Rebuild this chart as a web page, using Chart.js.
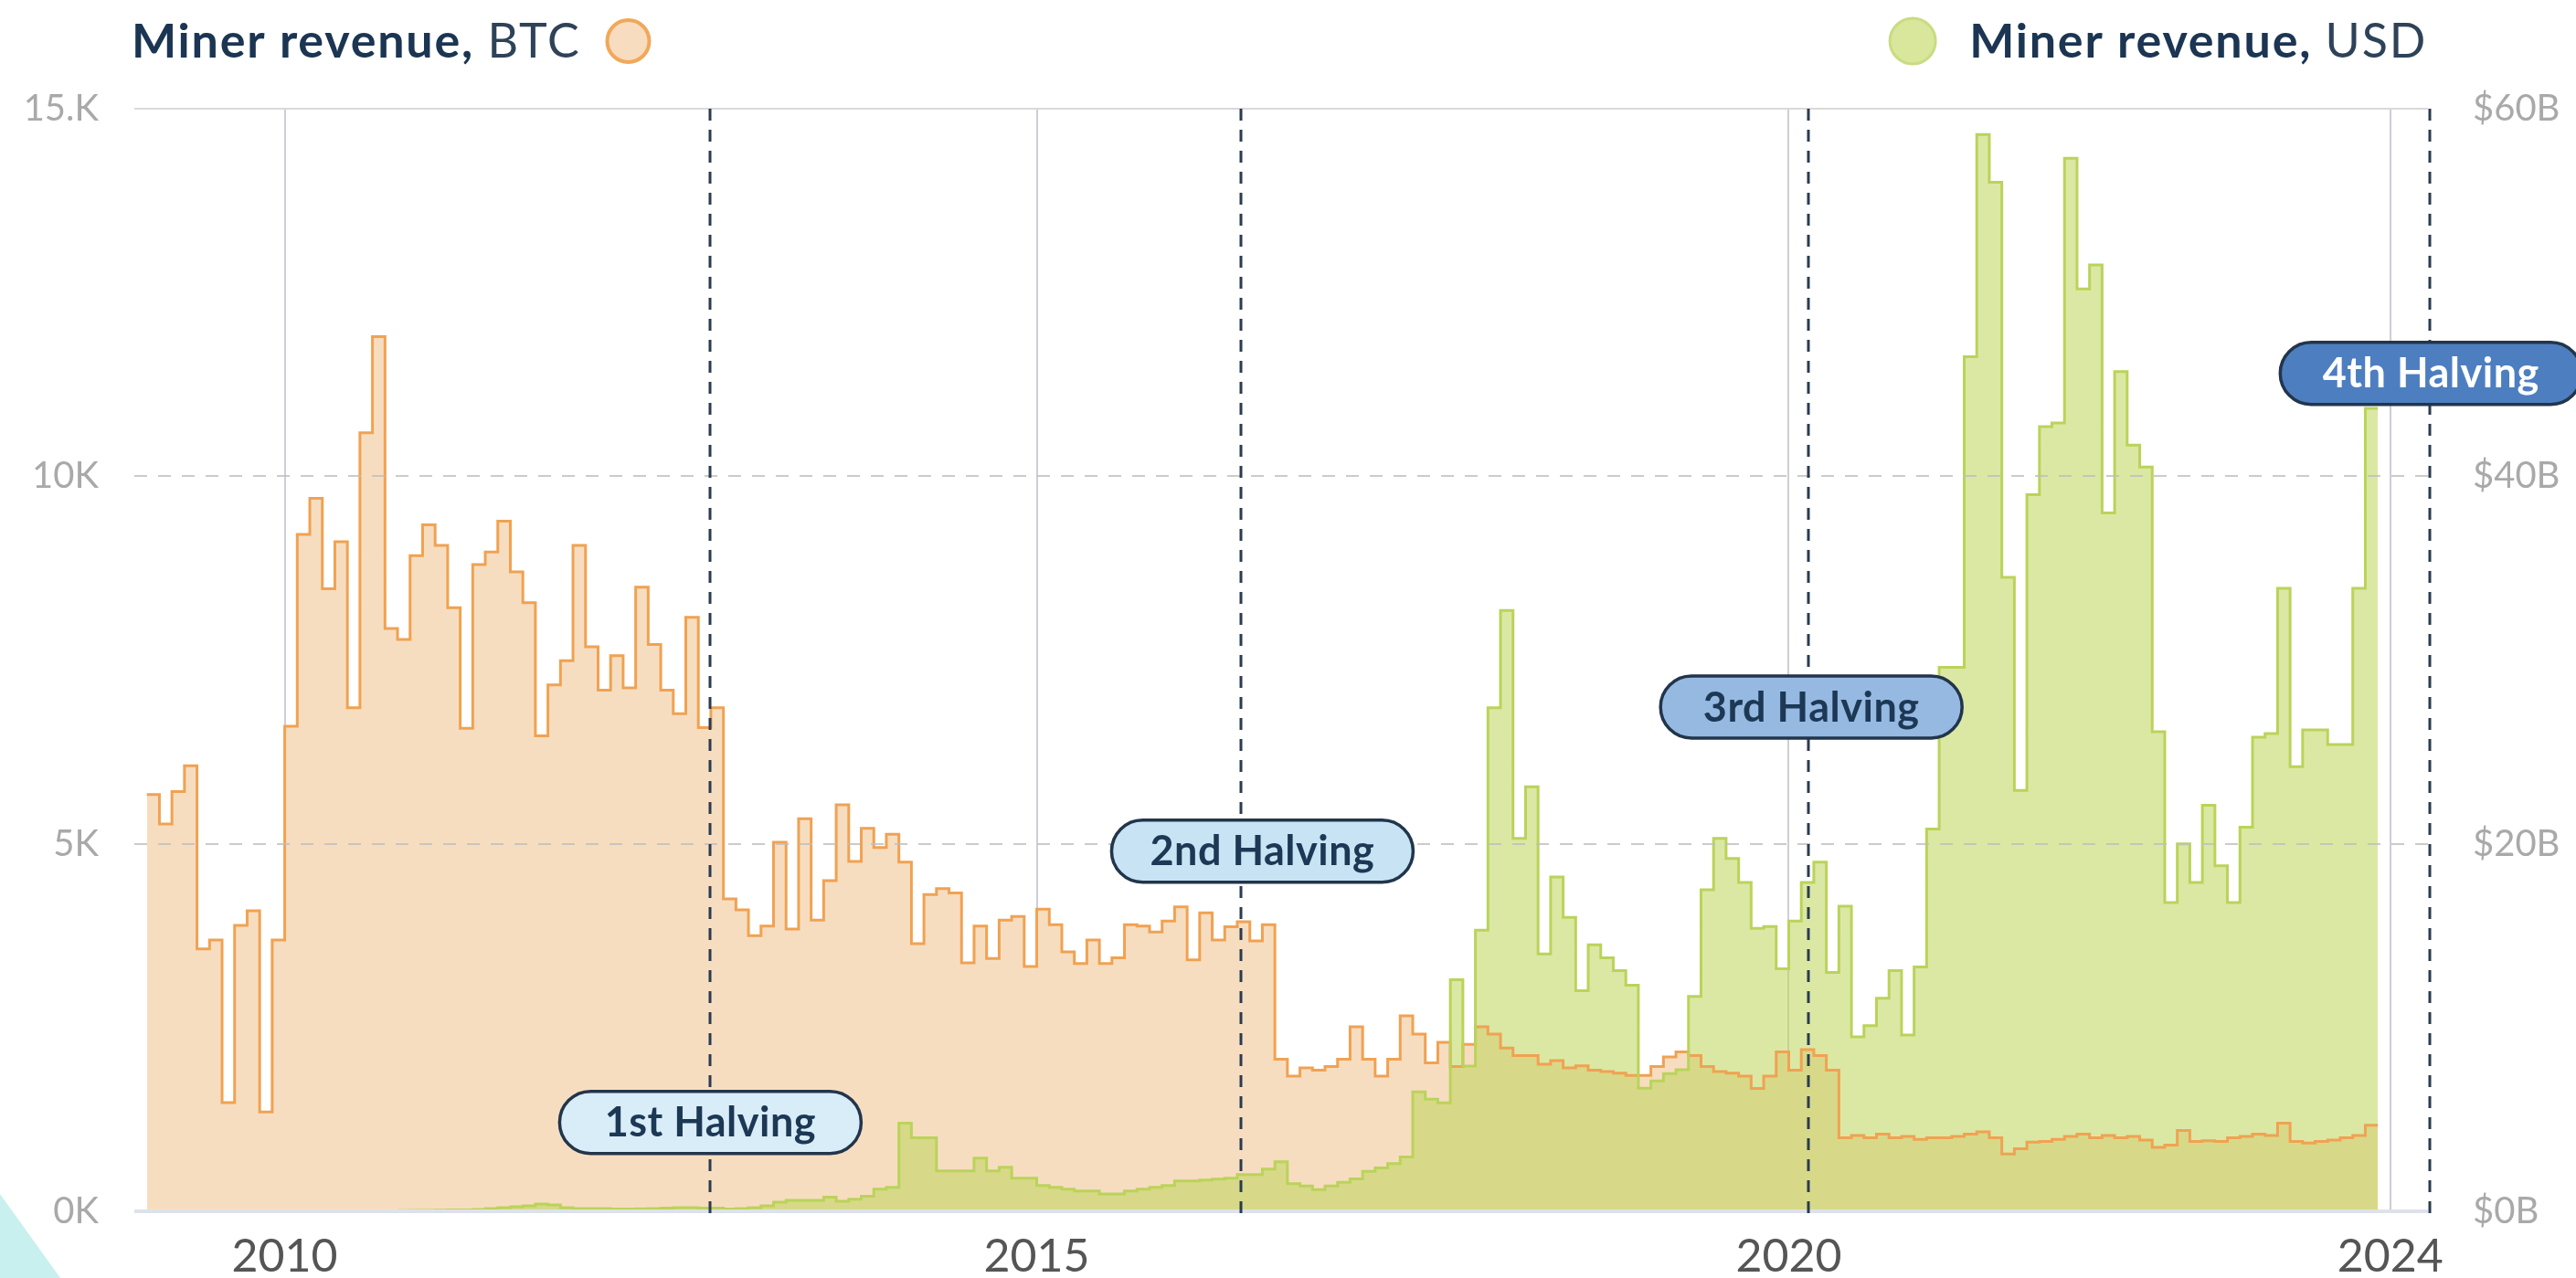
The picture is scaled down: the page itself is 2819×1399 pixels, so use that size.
<!DOCTYPE html>
<html>
<head>
<meta charset="utf-8">
<script src="https://cdn.jsdelivr.net/npm/chart.js@4.4.1/dist/chart.umd.min.js"></script>
<style>
  html, body { margin: 0; padding: 0; background: #fff; }
  #wrap { position: relative; width: 2819px; height: 1399px; overflow: hidden; }
  #corner { position: absolute; left: 0; bottom: 0; width: 66px; height: 92px; background: #c8f0ee;
            clip-path: polygon(0 0, 100% 100%, 0 100%); }
</style>
</head>
<body>
<div id="wrap">
  <canvas id="myChart" width="2819" height="1399"></canvas>
  <div id="corner"></div>
</div>
<script>
// monthly miner revenue, first month = Feb 2009, last = Nov 2023
const firstYear = 2009;
const firstMonth = 1; // 0 = Jan

// BTC (thousands)
const btc2009 = [5.67, 5.27, 5.71, 6.06, 3.57, 3.69, 1.48, 3.89, 4.09, 1.35, 3.69];
const btc2010 = [6.6, 9.21, 9.7, 8.47, 9.11, 6.85, 10.59, 11.9, 7.93, 7.78, 8.92, 9.34];
const btc2011 = [9.06, 8.21, 6.57, 8.8, 8.97, 9.39, 8.7, 8.28, 6.47, 7.16, 7.49, 9.06];
const btc2012 = [7.68, 7.09, 7.56, 7.12, 8.49, 7.71, 7.09, 6.77, 8.08, 6.58, 6.85, 4.25];
const btc2013 = [4.1, 3.75, 3.88, 5.02, 3.84, 5.34, 3.96, 4.5, 5.53, 4.76, 5.21, 4.95];
const btc2014 = [5.13, 4.75, 3.64, 4.31, 4.39, 4.33, 3.38, 3.88, 3.44, 3.96, 4.01, 3.33];
const btc2015 = [4.11, 3.9, 3.53, 3.37, 3.69, 3.37, 3.45, 3.9, 3.88, 3.8, 3.95, 4.14];
const btc2016 = [3.42, 4.06, 3.69, 3.87, 3.94, 3.68, 3.9, 2.07, 1.84, 1.95, 1.92, 1.97];
const btc2017 = [2.07, 2.51, 2.07, 1.84, 2.07, 2.66, 2.41, 2.02, 2.3, 1.97, 2.27, 2.51];
const btc2018 = [2.41, 2.22, 2.12, 2.12, 2.0, 2.05, 1.95, 1.98, 1.92, 1.9, 1.88, 1.85];
const btc2019 = [1.85, 1.97, 2.1, 2.17, 2.12, 1.97, 1.9, 1.88, 1.84, 1.67, 1.84, 2.17];
const btc2020 = [1.92, 2.2, 2.12, 1.92, 1.0, 1.03, 1.0, 1.05, 1.0, 1.02, 0.98, 1.0];
const btc2021 = [1.0, 1.02, 1.05, 1.08, 1.0, 0.78, 0.85, 0.94, 0.95, 0.98, 1.02, 1.05];
const btc2022 = [1.0, 1.03, 1.0, 1.02, 0.97, 0.87, 0.9, 1.1, 0.95, 0.96, 0.95, 1.0];
const btc2023 = [1.02, 1.05, 1.03, 1.2, 0.95, 0.93, 0.95, 0.97, 1.0, 1.03, 1.17];

// USD (billions), null = no price data yet
const usd2009 = [null, null, null, null, null, null, null, null, null, null, null];
const usd2010 = [null, null, null, null, null, null, null, null, null, 0.04, 0.05, 0.05];
const usd2011 = [0.06, 0.08, 0.08, 0.1, 0.15, 0.2, 0.25, 0.3, 0.4, 0.35, 0.2, 0.15];
const usd2012 = [0.15, 0.15, 0.12, 0.12, 0.14, 0.15, 0.18, 0.2, 0.2, 0.18, 0.18, 0.12];
const usd2013 = [0.15, 0.2, 0.3, 0.5, 0.6, 0.6, 0.6, 0.77, 0.55, 0.66, 0.82, 1.2];
const usd2014 = [1.3, 4.8, 4.0, 4.0, 2.2, 2.2, 2.2, 2.9, 2.2, 2.4, 1.8, 1.8];
const usd2015 = [1.4, 1.3, 1.2, 1.1, 1.1, 0.95, 0.95, 1.1, 1.2, 1.3, 1.4, 1.65];
const usd2016 = [1.65, 1.7, 1.75, 1.8, 2.0, 2.0, 2.3, 2.7, 1.5, 1.38, 1.18, 1.38];
const usd2017 = [1.58, 1.77, 2.17, 2.36, 2.6, 2.96, 6.5, 6.1, 5.9, 12.6, 7.9, 15.3];
const usd2018 = [27.4, 32.7, 20.3, 23.1, 14.0, 18.2, 16.0, 12.0, 14.5, 13.8, 13.1, 12.3];
const usd2019 = [6.7, 7.1, 7.5, 7.7, 11.7, 17.5, 20.3, 19.2, 17.9, 15.4, 15.5, 13.2];
const usd2020 = [15.8, 17.9, 19.0, 13.0, 16.6, 9.5, 10.1, 11.6, 13.1, 9.6, 13.3, 20.8];
const usd2021 = [29.6, 29.6, 46.5, 58.6, 56.0, 34.5, 22.9, 39.0, 42.7, 42.9, 57.3, 50.2];
const usd2022 = [51.5, 38.0, 45.7, 41.7, 40.5, 26.1, 16.8, 20.0, 17.9, 22.1, 18.8, 16.8];
const usd2023 = [20.9, 25.8, 26.0, 33.9, 24.2, 26.2, 26.2, 25.4, 25.4, 33.9, 43.7];

const xTicks = [2010, 2015, 2020, 2024];
const btcTicks = [0, 5, 10, 15];
const btcTickLabels = ['0K', '5K', '10K', '15.K'];
const usdTicks = [0, 20, 40, 60];
const usdTickLabels = ['$0B', '$20B', '$40B', '$60B'];

const halvingNames = ['1st Halving', '2nd Halving', '3rd Halving', '4th Halving'];
const halvingLineAt = [2012.83, 2016.36, 2020.13, 2024.26];
const halvingLabelX = [2012.83, 2016.5, 2020.15, 2024.27];
const halvingLabelY = [1.21, 4.9, 6.86, 11.4]; // in BTC-axis units
const halvingFill = ['#d8edf8', '#c8e4f4', '#96b9e2', '#4d7ec0'];
const halvingText = ['#1c3855', '#1c3855', '#1c3855', '#ffffff'];

const btcValues = [].concat(btc2009, btc2010, btc2011, btc2012, btc2013, btc2014, btc2015,
  btc2016, btc2017, btc2018, btc2019, btc2020, btc2021, btc2022, btc2023);
const usdValues = [].concat(usd2009, usd2010, usd2011, usd2012, usd2013, usd2014, usd2015,
  usd2016, usd2017, usd2018, usd2019, usd2020, usd2021, usd2022, usd2023);

function monthX(k) {
  return firstYear + (firstMonth + k) / 12;
}

// one point per month start, plus a closing point so the last month gets its width
function toPoints(values) {
  const pts = values.map((v, k) => ({ x: monthX(k), y: v }));
  pts.push({ x: monthX(values.length), y: values[values.length - 1] });
  return pts.filter(p => p.y !== null);
}

const FONT = 'Lato, "Open Sans", sans-serif';

function pill(ctx, cx, cy, w, h, fill, text, color) {
  const r = h / 2;
  ctx.beginPath();
  ctx.moveTo(cx - w / 2 + r, cy - r);
  ctx.lineTo(cx + w / 2 - r, cy - r);
  ctx.arc(cx + w / 2 - r, cy, r, -Math.PI / 2, Math.PI / 2);
  ctx.lineTo(cx - w / 2 + r, cy + r);
  ctx.arc(cx - w / 2 + r, cy, r, Math.PI / 2, Math.PI * 1.5);
  ctx.closePath();
  ctx.fillStyle = fill;
  ctx.fill();
  ctx.lineWidth = 3.5;
  ctx.strokeStyle = '#22354b';
  ctx.stroke();
  ctx.fillStyle = color;
  ctx.font = 'bold 45px ' + FONT;
  ctx.letterSpacing = '0.5px';
  ctx.textAlign = 'center';
  ctx.textBaseline = 'middle';
  ctx.fillText(text, cx, cy + 1);
  ctx.letterSpacing = '0px';
}

const overlay = {
  id: 'overlay',
  afterDatasetsDraw(chart) {
    const { ctx, chartArea, scales } = chart;
    const x = scales.x, y = scales.y;
    ctx.save();
    // horizontal grid
    btcTicks.forEach(t => {
      const py = Math.round(y.getPixelForValue(t));
      ctx.beginPath();
      if (t === 0) {
        ctx.strokeStyle = '#dde2ea';
        ctx.lineWidth = 4;
        ctx.setLineDash([]);
      } else if (t === 15) {
        ctx.strokeStyle = '#d9d9d9';
        ctx.lineWidth = 2;
        ctx.setLineDash([]);
      } else {
        ctx.strokeStyle = 'rgba(190,190,190,0.8)';
        ctx.lineWidth = 2;
        ctx.setLineDash([14, 12]);
      }
      ctx.moveTo(chartArea.left, py);
      ctx.lineTo(chartArea.right, py);
      ctx.stroke();
    });
    // halving lines
    ctx.setLineDash([13, 10]);
    ctx.strokeStyle = '#2b3b50';
    ctx.lineWidth = 3;
    halvingLineAt.forEach(h => {
      const px = Math.round(x.getPixelForValue(h));
      ctx.beginPath();
      ctx.moveTo(px, chartArea.top);
      ctx.lineTo(px, chartArea.bottom + 6);
      ctx.stroke();
    });
    ctx.setLineDash([]);
    // halving labels
    halvingNames.forEach((name, i) => {
      const cx = x.getPixelForValue(halvingLabelX[i]);
      const cy = y.getPixelForValue(halvingLabelY[i]);
      pill(ctx, cx, cy, 330, 68, halvingFill[i], name, halvingText[i]);
    });
    ctx.restore();
  },
  afterDraw(chart) {
    const ctx = chart.ctx;
    ctx.save();
    ctx.textBaseline = 'alphabetic';
    ctx.letterSpacing = '1.8px';
    const base = 63;
    const bold = 'bold 52px ' + FONT;
    const regular = '52px ' + FONT;
    // left legend
    ctx.textAlign = 'left';
    ctx.font = bold;
    ctx.fillStyle = '#1b3552';
    let lx = 144;
    ctx.fillText('Miner revenue,', lx, base);
    lx += ctx.measureText('Miner revenue, ').width;
    ctx.font = regular;
    ctx.fillStyle = '#2e4258';
    ctx.fillText('BTC', lx, base);
    lx += ctx.measureText('BTC').width + 38;
    ctx.beginPath();
    ctx.arc(lx + 14, 45, 23, 0, Math.PI * 2);
    ctx.fillStyle = '#f8dcc0';
    ctx.fill();
    ctx.lineWidth = 4;
    ctx.strokeStyle = '#f1a85a';
    ctx.stroke();
    // right legend
    ctx.font = regular;
    const usdW = ctx.measureText('USD').width;
    ctx.font = bold;
    const boldW = ctx.measureText('Miner revenue, ').width;
    let rx = 2656 - usdW - boldW;
    ctx.fillStyle = '#1b3552';
    ctx.fillText('Miner revenue,', rx, base);
    ctx.font = regular;
    ctx.fillStyle = '#2e4258';
    ctx.fillText('USD', rx + boldW, base);
    ctx.beginPath();
    ctx.arc(rx - 62, 45, 25, 0, Math.PI * 2);
    ctx.fillStyle = '#d8e79c';
    ctx.fill();
    ctx.lineWidth = 3;
    ctx.strokeStyle = '#c8dc82';
    ctx.stroke();
    ctx.restore();
  }
};

const ctx = document.getElementById('myChart').getContext('2d');
const chart = new Chart(ctx, {
  type: 'line',
  data: {
    datasets: [
      {
        label: 'Miner revenue, USD',
        data: toPoints(usdValues),
        yAxisID: 'y1',
        stepped: true,
        borderColor: '#bad35a',
        borderWidth: 3,
        backgroundColor: 'rgba(190,214,90,0.55)',
        fill: 'origin',
        pointRadius: 0
      },
      {
        label: 'Miner revenue, BTC',
        data: toPoints(btcValues),
        yAxisID: 'y',
        stepped: true,
        borderColor: '#f0a252',
        borderWidth: 3,
        backgroundColor: 'rgb(247,221,192)',
        fill: 'origin',
        pointRadius: 0
      }
    ]
  },
  options: {
    responsive: false,
    animation: false,
    layout: { padding: { top: 119, left: 0, right: 0, bottom: 0 } },
    plugins: {
      legend: { display: false },
      tooltip: { enabled: false },
      filler: { drawTime: 'beforeDatasetsDraw' }
    },
    scales: {
      x: {
        type: 'linear',
        min: 2009,
        max: 2024.25,
        z: 1,
        afterBuildTicks: s => { s.ticks = xTicks.map(v => ({ value: v })); },
        afterFit: s => { s.height = 68; },
        ticks: {
          callback: v => String(v),
          font: { family: FONT, size: 50 },
          color: '#555555',
          padding: 20,
          maxRotation: 0,
          autoSkip: false
        },
        grid: { color: 'rgba(185,185,195,0.7)', lineWidth: 2, drawTicks: false },
        border: { display: false }
      },
      y: {
        position: 'left',
        min: 0,
        max: 15,
        afterBuildTicks: s => { s.ticks = btcTicks.map(v => ({ value: v })); },
        afterFit: s => { s.width = 147; },
        ticks: {
          callback: (v, i) => btcTickLabels[i],
          font: { family: FONT, size: 40 },
          color: '#a9a9a9',
          padding: 39
        },
        grid: { display: false, drawTicks: false },
        border: { display: false }
      },
      y1: {
        position: 'right',
        min: 0,
        max: 60,
        afterBuildTicks: s => { s.ticks = usdTicks.map(v => ({ value: v })); },
        afterFit: s => { s.width = 162; },
        ticks: {
          callback: (v, i) => usdTickLabels[i],
          font: { family: FONT, size: 40 },
          color: '#a9a9a9',
          padding: 49
        },
        grid: { display: false, drawTicks: false },
        border: { display: false }
      }
    }
  },
  plugins: [overlay]
});
</script>
</body>
</html>
